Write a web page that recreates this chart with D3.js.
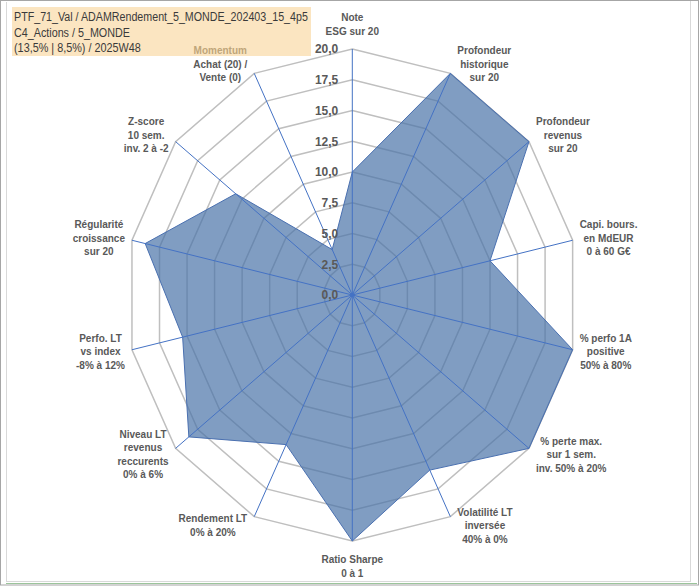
<!DOCTYPE html>
<html>
<head>
<meta charset="utf-8">
<script src="https://cdn.jsdelivr.net/npm/d3@7"></script>
<style>
  body { margin: 0; background: #fff; }
  svg { display: block; }
</style>
</head>
<body>
<svg id="chart" width="700" height="586"></svg>
<script>
// ---------- DATA ----------
const titleLines = [
  "PTF_71_Val / ADAMRendement_5_MONDE_202403_15_4p5",
  "C4_Actions / 5_MONDE",
  "(13,5% | 8,5%) / 2025W48"
];
const categories = [
  ["Note", "ESG sur 20"],
  ["Profondeur", "historique", "sur 20"],
  ["Profondeur", "revenus", "sur 20"],
  ["Capi. bours.", "en MdEUR", "0 à 60 G€"],
  ["% perfo 1A", "positive", "50% à 80%"],
  ["% perte max.", "sur 1 sem.", "inv. 50% à 20%"],
  ["Volatilité LT", "inversée", "40% à 0%"],
  ["Ratio Sharpe", "0 à 1"],
  ["Rendement LT", "0% à 20%"],
  ["Niveau LT", "revenus", "reccurents", "0% à 6%"],
  ["Perfo. LT", "vs index", "-8% à 12%"],
  ["Régularité", "croissance", "sur 20"],
  ["Z-score", "10 sem.", "inv. 2 à -2"],
  ["Momentum", "Achat (20) /", "Vente (0)"]
];
const values = [10, 20, 20, 12.5, 20, 20, 15.8, 20, 13.5, 18.5, 15.4, 18.8, 13.2, 4.1];
const tickValues = [0, 2.5, 5, 7.5, 10, 12.5, 15, 17.5, 20];

// ---------- LAYOUT ----------
const svg = d3.select("#chart");
const W = 700, H = 586;
const cx = 352.3, cy = 295, rx = 226, ry = 246;
const n = categories.length;
const angle = d3.scaleLinear().domain([0, n]).range([0, 2 * Math.PI]);
const rScale = d3.scaleLinear().domain([0, 20]).range([0, 1]);
const fmt = v => d3.format(".1f")(v).replace(".", ",");

function pt(i, v) {
  const a = angle(i), r = rScale(v);
  return [cx + rx * r * Math.sin(a), cy - ry * r * Math.cos(a)];
}

// frame
svg.append("rect").attr("x", 0.5).attr("y", 0.5).attr("width", W - 2).attr("height", H - 1.5)
  .attr("fill", "#fff").attr("stroke", "#a6a6a6");
svg.append("line").attr("x1", 6.5).attr("x2", 6.5).attr("y1", 2).attr("y2", 581)
  .attr("stroke", "#d9d9d9");
svg.append("line").attr("x1", 690.5).attr("x2", 690.5).attr("y1", 1).attr("y2", 581)
  .attr("stroke", "#d9d9d9");
svg.append("line").attr("x1", 6).attr("x2", 691).attr("y1", 581.5).attr("y2", 581.5)
  .attr("stroke", "#d9d9d9");
svg.append("line").attr("x1", 6).attr("x2", 697).attr("y1", 583.5).attr("y2", 583.5)
  .attr("stroke", "#9bc49b").attr("stroke-width", 1.2);

// title box (behind labels)
svg.append("rect").attr("x", 12).attr("y", 7).attr("width", 299).attr("height", 49)
  .attr("fill", "#fbe5c1");
const titleWidths = [294, 116, 127];
const titleG = svg.append("g");
titleLines.forEach((t, k) => {
  const tx = titleG.append("text")
    .attr("font-family", "Liberation Sans, Arial, sans-serif")
    .attr("font-size", 12.5)
    .attr("fill", "#3a3a3a")
    .text(t);
  const wNat = tx.node().getComputedTextLength();
  const sx = titleWidths[k] / wNat;
  tx.attr("transform", `translate(14,${21 + k * 15.5}) scale(${sx},1)`);
});

// grid polygons
const gridLine = d3.line();
const g = svg.append("g");
tickValues.filter(v => v > 0).forEach(v => {
  const pts = d3.range(n).map(i => pt(i, v));
  g.append("path").attr("d", gridLine(pts) + "Z")
    .attr("fill", "none").attr("stroke", "#bfbfbf").attr("stroke-width", 1.5);
});

// data polygon
const dataPts = values.map((v, i) => pt(i, v));
svg.append("path").attr("d", gridLine(dataPts) + "Z")
  .attr("fill", "#4a74a8").attr("fill-opacity", 0.7)
  .attr("stroke", "#4a70b0").attr("stroke-width", 1);

// spokes
d3.range(n).forEach(i => {
  const [x, y] = pt(i, 20);
  svg.append("line").attr("x1", cx).attr("y1", cy).attr("x2", x).attr("y2", y)
    .attr("stroke", "#4472c4").attr("stroke-width", 1);
});
svg.append("circle").attr("cx", cx).attr("cy", cy).attr("r", 2).attr("fill", "#4472c4");

// tick labels
svg.append("g").selectAll("text").data(tickValues).join("text")
  .attr("x", cx - 14)
  .attr("y", d => cy - ry * rScale(d))
  .attr("dy", "0.36em")
  .attr("text-anchor", "end")
  .attr("font-family", "Liberation Sans, Arial, sans-serif")
  .attr("font-weight", "bold")
  .attr("font-size", 12)
  .attr("fill", "#595959")
  .text(d => fmt(d));

// category labels
const lh = 13.5;
const labG = svg.append("g")
  .attr("font-family", "Liberation Sans, Arial, sans-serif")
  .attr("font-weight", "bold")
  .attr("font-size", 10)
  .attr("fill", "#595959");

categories.forEach((lines, i) => {
  const a = angle(i);
  const [ex, ey] = pt(i, 20);
  const grp = labG.append("g");
  const texts = lines.map((t, k) => grp.append("text").attr("text-anchor", "middle")
    .attr("fill", (i === n - 1 && k === 0) ? "#bfa67a" : "#595959").text(t));
  const w = d3.max(texts, t => t.node().getComputedTextLength());
  const h = lines.length * lh;
  const s = Math.sin(a), c = Math.cos(a);
  let bx, by; // block center
  if (Math.abs(s) < 0.1) {
    bx = ex;
    by = c > 0 ? ey - 11 - h / 2 : ey + 12 + h / 2;
  } else {
    bx = s > 0 ? ex + 7 + w / 2 : ex - 7 - w / 2;
    by = ey - 10 * c;
  }
  texts.forEach((t, k) => {
    t.attr("x", bx).attr("y", by - h / 2 + lh * (k + 0.5) + 3.5);
  });
});
</script>
</body>
</html>
